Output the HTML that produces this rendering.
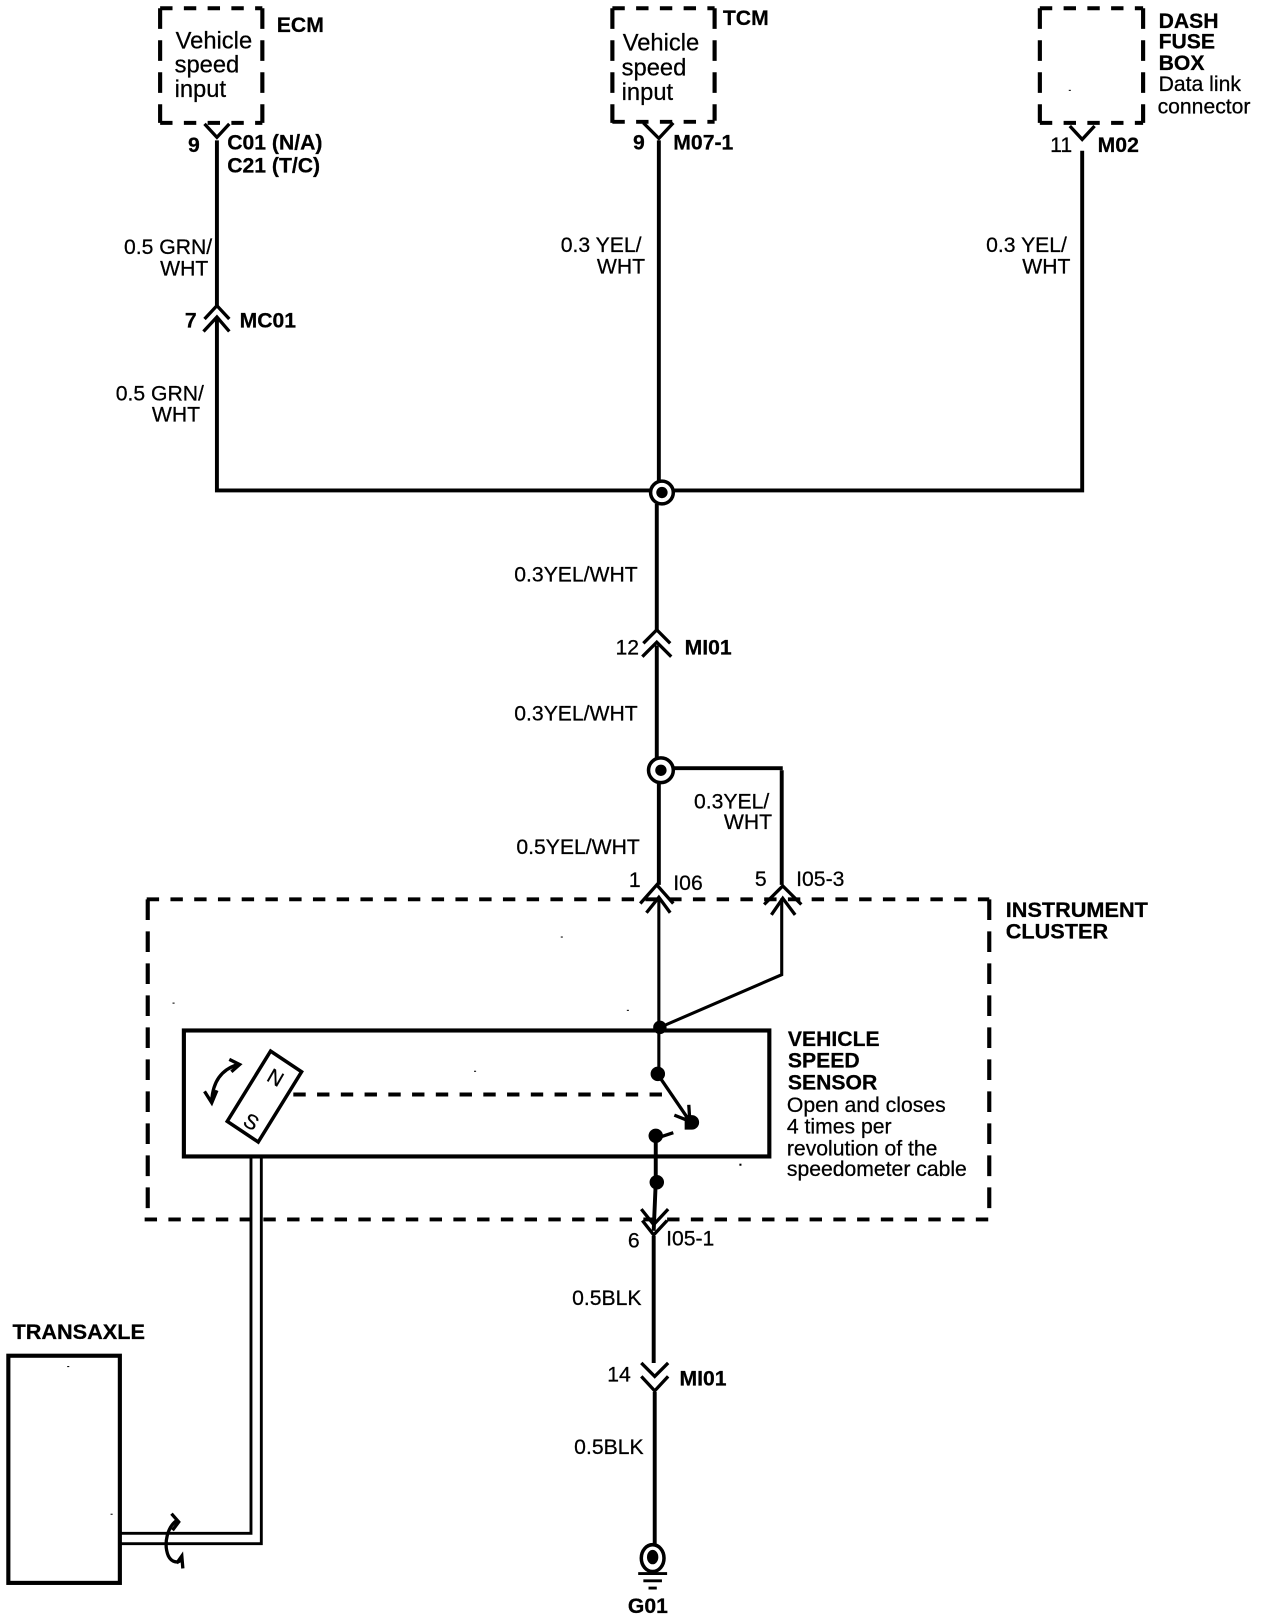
<!DOCTYPE html>
<html><head><meta charset="utf-8"><style>
html,body{margin:0;padding:0;background:#fff;width:1264px;height:1618px;overflow:hidden}
svg{display:block}
text{font-family:"Liberation Sans",sans-serif;font-size:20.5px;fill:#000;stroke:#000;stroke-width:.25}
.b{font-weight:bold}
.l{font-size:21px}
.v{font-size:23px}
.w{fill:none;stroke:#000;stroke-width:3.8}
.c{fill:none;stroke:#000;stroke-width:3.2}
.d{fill:none;stroke:#000;stroke-width:3.8;stroke-dasharray:12 11}
.e{fill:none;stroke:#000;stroke-width:4;stroke-dasharray:20 11}
</style></head><body>
<svg width="1264" height="1618" viewBox="0 0 1224 1567" xmlns="http://www.w3.org/2000/svg">
<!-- top boxes -->
<path class="d" d="M155 8H254"/><path class="e" d="M254 8V119"/><path class="e" d="M155 8V119"/><path class="d" d="M155 119H254"/>
<path class="d" d="M593 8H692"/><path class="e" d="M692 8V117"/><path class="e" d="M593 8V119"/><path class="d" d="M593 118H692"/>
<path class="d" d="M1007 8H1107"/><path class="e" d="M1107 8V119"/><path class="e" d="M1007 8V119"/><path class="d" d="M1007 119H1107"/>
<text class="v" x="170" y="47">Vehicle</text><text class="v" x="169" y="70">speed</text><text class="v" x="169" y="94">input</text>
<text class="v" x="603" y="49">Vehicle</text><text class="v" x="602" y="73">speed</text><text class="v" x="602" y="97">input</text>
<text class="b" x="268" y="31">ECM</text><text class="b" x="700" y="24">TCM</text>
<text class="b" x="1122" y="27">DASH</text><text class="b" x="1122" y="47">FUSE</text><text class="b" x="1122" y="68">BOX</text>
<text x="1122" y="88">Data link</text><text x="1121" y="110">connector</text>
<!-- upper connectors -->
<path class="c" d="M198 120L210 133L222 120"/><path class="c" d="M623 119L638 134L652 119"/><path class="c" d="M1036 122L1048 135L1060 122"/>
<!-- wires -->
<path class="w" d="M210 136V296M210 308V475H636M646 475H1048V146"/>
<path class="w" d="M638 136V466M636 488V611M636 625V736M638 757V857M757 746V857M651 744H758"/>
<path class="c" d="M198 309L210 296L222 309M197 321L210 307L222 321"/>
<path class="c" d="M623 623L636 610L649 623M622 636L636 622L650 636"/>
<!-- junctions -->
<circle cx="641" cy="477" r="11" fill="#fff" stroke="#000" stroke-width="3.4"/><circle cx="641" cy="477" r="5.5"/>
<circle cx="640" cy="746" r="12" fill="#fff" stroke="#000" stroke-width="3.4"/><circle cx="640" cy="746" r="5.5"/>
<!-- wire labels -->
<text x="120" y="246">0.5 GRN/</text><text x="155" y="267">WHT</text>
<text x="112" y="388">0.5 GRN/</text><text x="147" y="408">WHT</text>
<text x="543" y="244">0.3 YEL/</text><text x="578" y="265">WHT</text>
<text x="955" y="244">0.3 YEL/</text><text x="990" y="265">WHT</text>
<text x="498" y="563">0.3YEL/WHT</text><text x="498" y="698">0.3YEL/WHT</text>
<text x="672" y="783">0.3YEL/</text><text x="701" y="803">WHT</text><text x="500" y="827">0.5YEL/WHT</text>
<text x="554" y="1264">0.5BLK</text><text x="556" y="1408">0.5BLK</text>
<!-- pin labels -->
<text class="b" x="182" y="147">9</text><text class="b" x="220" y="145">C01 (N/A)</text><text class="b" x="220" y="167">C21 (T/C)</text>
<text class="b" x="179" y="317">7</text><text class="b" x="232" y="317">MC01</text>
<text class="b" x="613" y="145">9</text><text class="b" x="652" y="145">M07-1</text>
<text x="1017" y="147">11</text><text class="b" x="1063" y="147">M02</text>
<text x="596" y="634">12</text><text class="b" x="663" y="634">MI01</text>
<text x="609" y="859">1</text><text x="652" y="862">I06</text>
<text x="731" y="858">5</text><text x="771" y="858">I05-3</text>
<text x="608" y="1208">6</text><text x="645" y="1206">I05-1</text>
<text x="588" y="1338">14</text><text class="b" x="658" y="1342">MI01</text>
<!-- instrument cluster -->
<path class="d" d="M142 871H958"/><path class="d" d="M140 1181H958"/>
<path class="e" d="M143 871V1181"/><path class="e" d="M958 871V1181"/>
<text class="b l" x="974" y="888">INSTRUMENT</text><text class="b l" x="974" y="909">CLUSTER</text>
<path class="c" d="M620 875L636 857L652 875M626 884L638 869L649 884"/>
<path class="c" d="M740 876L758 858L776 876M747 886L758 870L770 886"/>
<path class="w" style="stroke-width:3" d="M638 870V1040M757 870V944L639 995"/>
<!-- sensor -->
<rect x="178" y="998" width="567" height="122" fill="none" stroke="#000" stroke-width="4"/>
<circle cx="639" cy="995" r="6.5"/><circle cx="637" cy="1040" r="7"/>
<path class="w" style="stroke-width:3.2" d="M638 1042L668 1086"/><path class="c" d="M653 1080L668 1086L667 1070"/>
<path d="M663 1080h7a7 7 0 0 1 0 14h-7z"/>
<circle cx="635" cy="1100" r="7"/><path class="c" d="M637 1102L652 1097"/>
<path class="w" d="M635 1100V1145M635 1145L633 1192"/><circle cx="636" cy="1145" r="7"/>
<path class="c" d="M621 1171L633 1186L647 1171M622 1182L633 1196L646 1182"/>
<path class="w" d="M633 1197V1320M634 1348V1497"/>
<path class="c" d="M621 1320L634 1333L647 1320M621 1333L634 1347L647 1333"/>
<!-- magnet -->
<path d="M262 1018L292 1038L250 1106L220 1086Z" fill="#fff" stroke="#000" stroke-width="3.4"/>
<text x="0" y="0" transform="translate(257,1046) rotate(30)" style="font-size:20px">N</text>
<text x="0" y="0" transform="translate(234,1089) rotate(30)" style="font-size:20px">S</text>
<path class="d" d="M284 1060H650"/>
<path class="c" d="M230 1031C214 1036 206 1048 205 1066M222 1026L232 1031L224 1038M198 1057L205 1068L210 1056"/>
<!-- sensor text -->
<text class="b" x="763" y="1013">VEHICLE</text><text class="b" x="763" y="1034">SPEED</text><text class="b" x="763" y="1055">SENSOR</text>
<text x="762" y="1077">Open and closes</text><text x="762" y="1098">4 times per</text><text x="762" y="1119">revolution of the</text><text x="762" y="1139">speedometer cable</text>
<!-- transaxle -->
<text class="b l" x="12" y="1297">TRANSAXLE</text>
<rect x="8" y="1313" width="108" height="220" fill="none" stroke="#000" stroke-width="4"/>
<path fill="none" stroke="#000" stroke-width="2.8" d="M117 1485H243V1120M117 1495H253V1120"/>
<path class="c" d="M172 1472C162 1478 158 1495 163 1507C166 1513 172 1514 175 1511M166 1466L173 1474L167 1482M171 1514L176 1507L177 1519"/>
<!-- ground -->
<ellipse cx="632" cy="1509" rx="11" ry="13" fill="#fff" stroke="#000" stroke-width="3.4"/><ellipse cx="632" cy="1508" rx="5.5" ry="7"/>
<path fill="none" stroke="#000" stroke-width="2.8" d="M618 1524H646M623 1531H641M628 1538H636"/>
<text class="b" x="608" y="1562">G01</text>
<!-- specks -->
<g fill="#000"><rect x="543" y="907" width="2" height="1"/><rect x="167" y="971" width="2" height="1"/><rect x="459" y="1037" width="2" height="1"/><rect x="607" y="978" width="2" height="1"/><rect x="716" y="1127" width="2" height="2"/><rect x="65" y="1323" width="2" height="1"/><rect x="107" y="1466" width="2" height="1"/><rect x="1035" y="87" width="2" height="1"/></g>
</svg>
</body></html>
